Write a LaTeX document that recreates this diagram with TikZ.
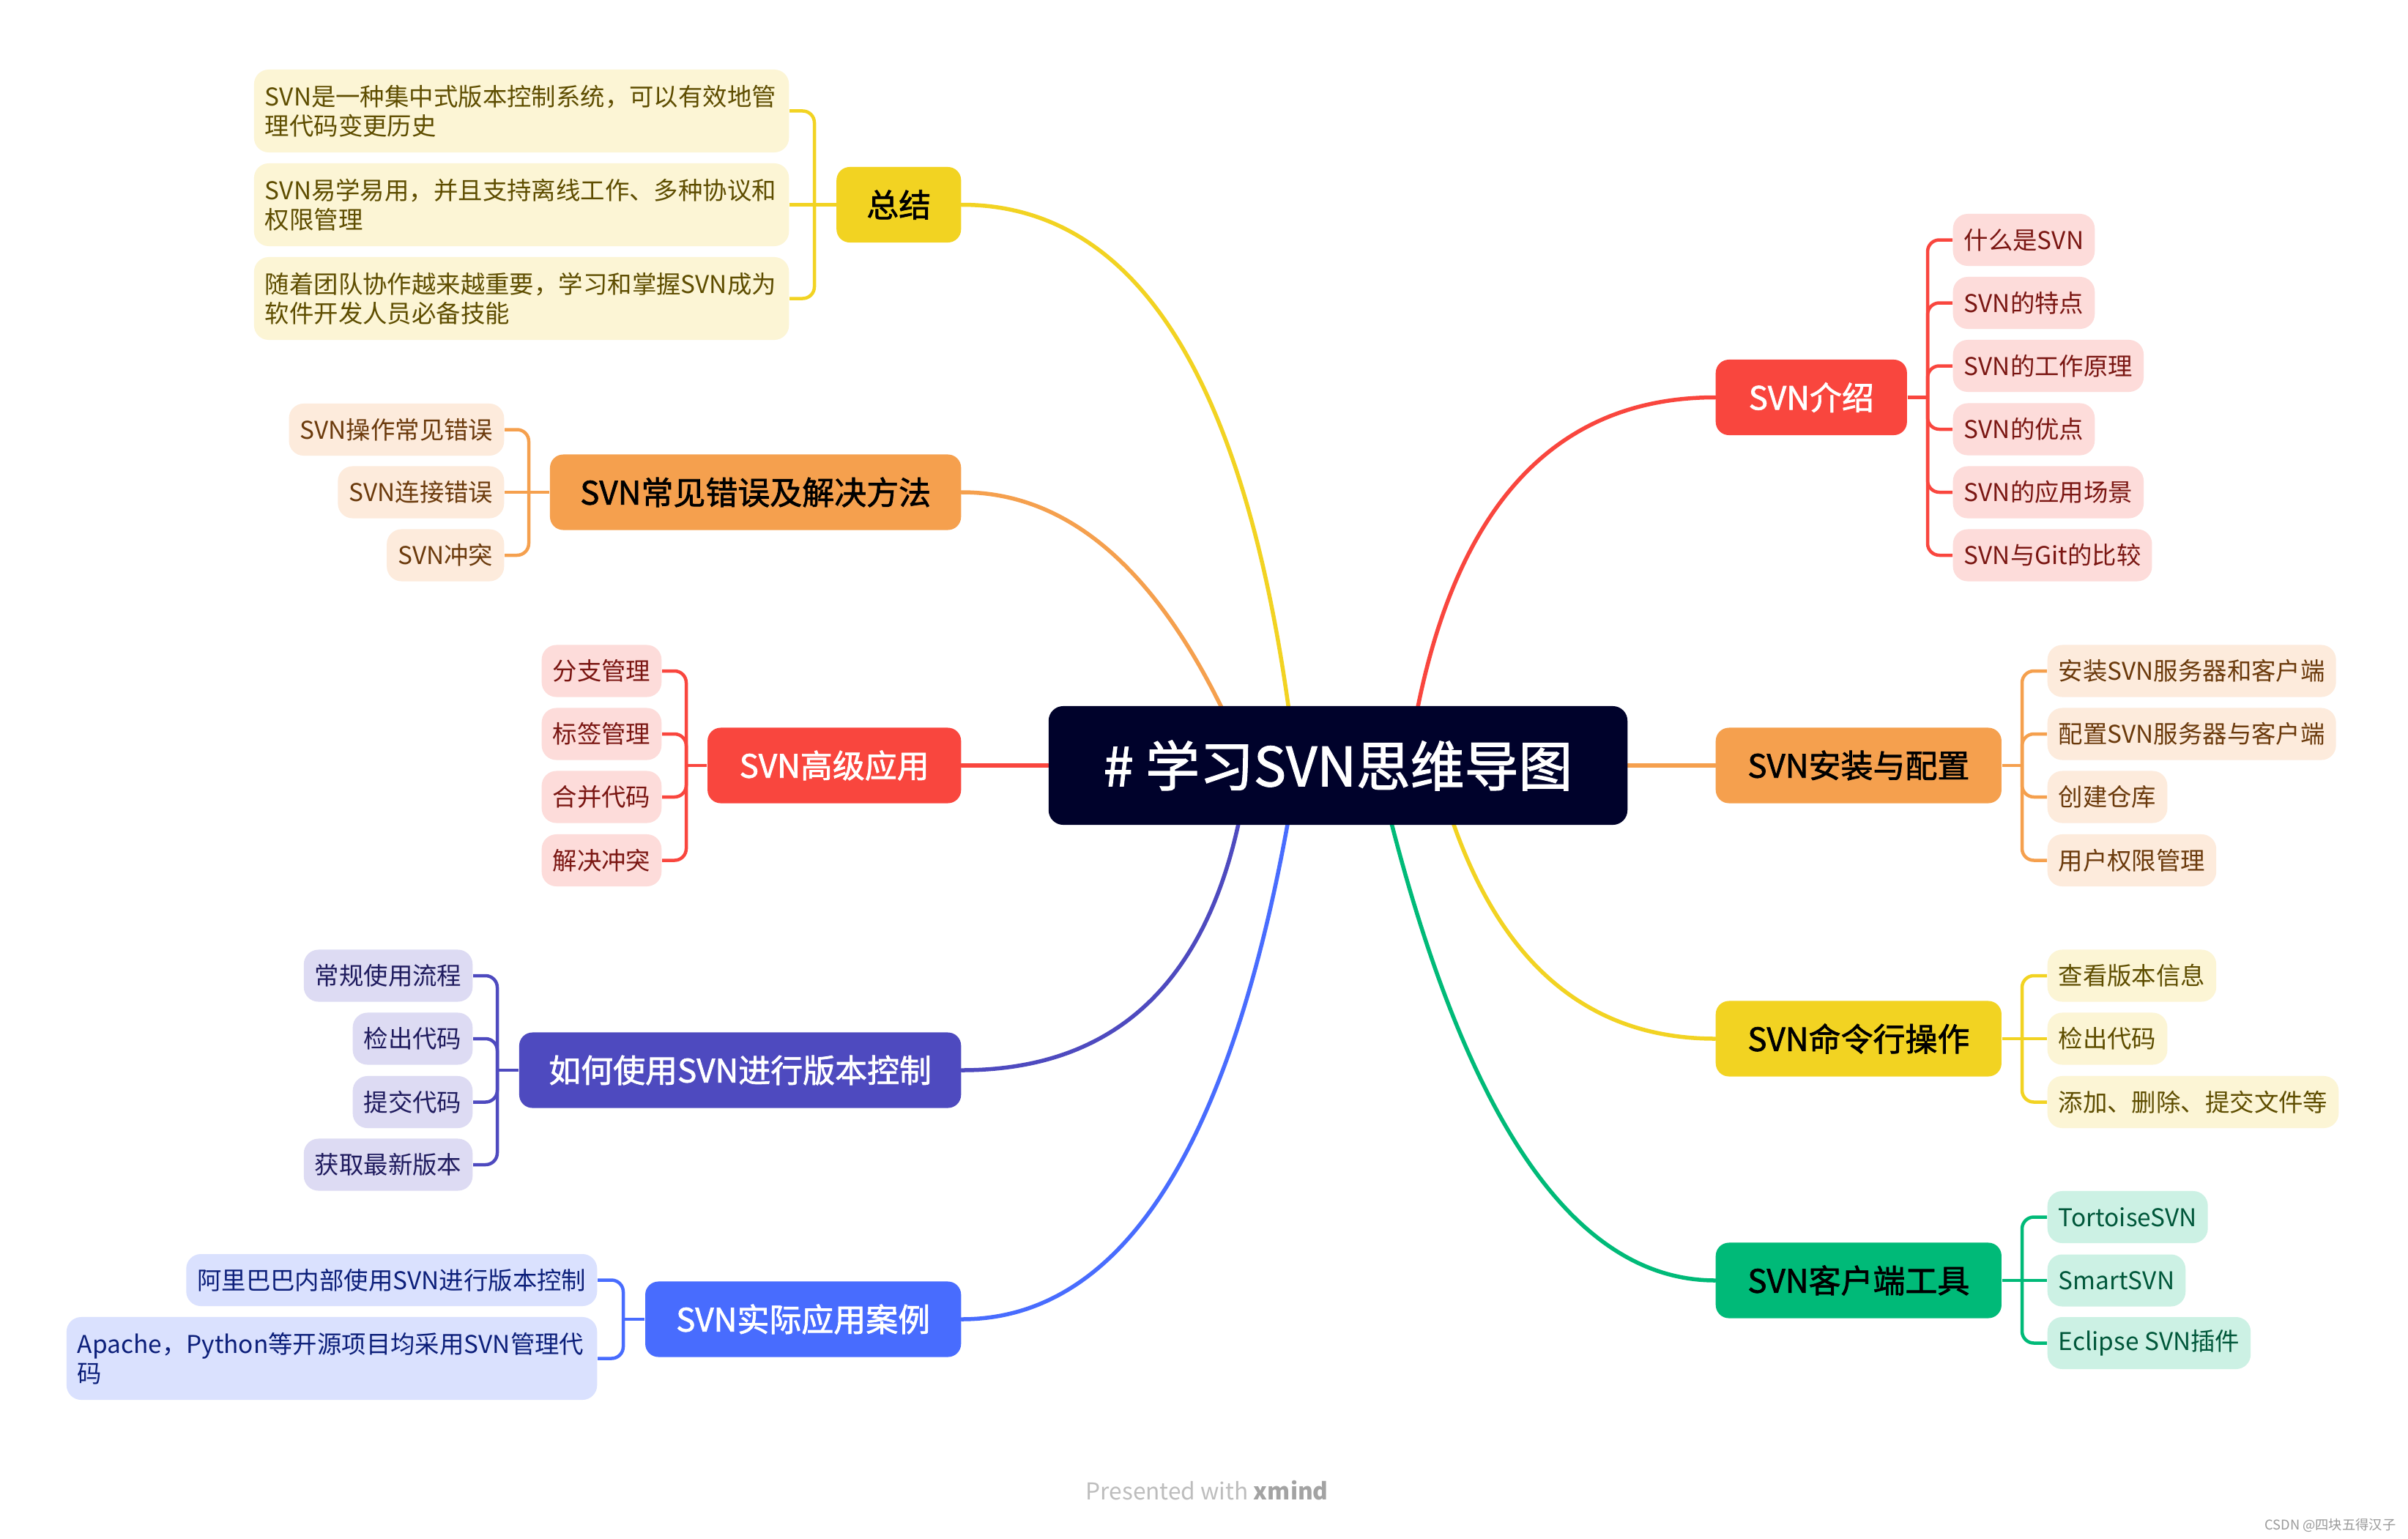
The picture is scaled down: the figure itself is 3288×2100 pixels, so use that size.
\documentclass[tikz,border=0pt]{standalone}
\usepackage{fontspec}
\setmainfont{Noto Sans CJK SC}
\newfontfamily\medfont{Noto Sans CJK SC}[FakeBold=1.6]
\usetikzlibrary{calc}
\pgfdeclarelayer{back}
\pgfdeclarelayer{bg}
\pgfsetlayers{back,bg,main}
\definecolor{rootc}{HTML}{00022B}
\definecolor{cYel}{HTML}{F2D322}
\definecolor{cYelL}{HTML}{FCF5D5}
\definecolor{cYelT}{HTML}{5E4D00}
\definecolor{cOra}{HTML}{F5A04E}
\definecolor{cOraL}{HTML}{FDEBDC}
\definecolor{cOraT}{HTML}{6B3A0C}
\definecolor{cRed}{HTML}{F9463E}
\definecolor{cRedL}{HTML}{FDDCDA}
\definecolor{cRedT}{HTML}{7A1612}
\definecolor{cPur}{HTML}{4E4ABF}
\definecolor{cPurL}{HTML}{DDDBF3}
\definecolor{cPurT}{HTML}{1F1B5E}
\definecolor{cBlu}{HTML}{486CFE}
\definecolor{cBluL}{HTML}{DAE1FE}
\definecolor{cBluT}{HTML}{0C1F7A}
\definecolor{cGrn}{HTML}{00BA78}
\definecolor{cGrnL}{HTML}{CCF1E4}
\definecolor{cGrnT}{HTML}{00573A}
\definecolor{ftgrey}{HTML}{BDBDBD}
\definecolor{ftdark}{HTML}{A3A3A3}
\definecolor{wmgrey}{HTML}{9A9A9A}
\tikzset{
  rootbox/.style={fill=rootc, text=white, rounded corners=0.2cm, minimum width=7.9cm, minimum height=1.62cm, inner sep=0pt, font=\medfont\fontsize{21pt}{24pt}\selectfont},
  branch/.style={rounded corners=0.18cm, minimum height=1.03cm, inner xsep=0.2cm, inner ysep=0pt, font=\medfont\fontsize{12.5pt}{15pt}\selectfont},
  leaf/.style={rounded corners=0.2cm, minimum height=0.71cm, inner xsep=0.15cm, inner ysep=0pt, font=\fontsize{9.5pt}{11.4pt}\selectfont},
  leafwide/.style={leaf, align=left, minimum height=1.13cm},
  leafY/.style={leaf, fill=cYelL, text=cYelT},
  leafO/.style={leaf, fill=cOraL, text=cOraT},
  leafR/.style={leaf, fill=cRedL, text=cRedT},
  leafP/.style={leaf, fill=cPurL, text=cPurT},
  leafB/.style={leaf, fill=cBluL, text=cBluT},
  leafG/.style={leaf, fill=cGrnL, text=cGrnT},
  curve/.style={line width=0.055cm, line cap=round},
  bracket/.style={line width=0.045cm, rounded corners=0.16cm},
}
\begin{document}
\begin{tikzpicture}[x=0.01cm, y=-0.01cm]
\useasboundingbox (0,0) rectangle (3288,2100);
\begin{pgfonlayer}{back}
\fill[white] (0,0) rectangle (3288,2100);
\end{pgfonlayer}

% root
\node[rootbox] (root) at (1827,1045) {\# 学习SVN思维导图};

% left branches
\node[branch, fill=cYel, text=black, minimum width=1.70cm, anchor=east] (b1) at (1313,279.5) {总结};
\node[branch, fill=cOra, text=black, minimum width=5.61cm, anchor=east] (b2) at (1313,672) {SVN常见错误及解决方法};
\node[branch, fill=cRed, text=white, minimum width=3.46cm, anchor=east] (b3) at (1313,1045) {SVN高级应用};
\node[branch, fill=cPur, text=white, minimum width=6.03cm, anchor=east] (b4) at (1313,1461) {如何使用SVN进行版本控制};
\node[branch, fill=cBlu, text=white, minimum width=4.31cm, anchor=east] (b5) at (1313,1801) {SVN实际应用案例};
% right branches
\node[branch, fill=cRed, text=white, minimum width=2.61cm, anchor=west] (b6) at (2342,542.5) {SVN介绍};
\node[branch, fill=cOra, text=black, minimum width=3.90cm, anchor=west] (b7) at (2342,1045) {SVN安装与配置};
\node[branch, fill=cYel, text=black, minimum width=3.90cm, anchor=west] (b8) at (2342,1418) {SVN命令行操作};
\node[branch, fill=cGrn, text=black, minimum width=3.90cm, anchor=west] (b9) at (2342,1748) {SVN客户端工具};

% leaves b1
\node[leafY, leafwide, text width=7.0cm, anchor=east] (l11) at (1078,151.5) {SVN是一种集中式版本控制系统，可以有效地管\\理代码变更历史};
\node[leafY, leafwide, text width=7.0cm, anchor=east] (l12) at (1078,279.5) {SVN易学易用，并且支持离线工作、多种协议和\\权限管理};
\node[leafY, leafwide, text width=7.0cm, anchor=east] (l13) at (1078,407.5) {随着团队协作越来越重要，学习和掌握SVN成为\\软件开发人员必备技能};
% leaves b2
\node[leafO, anchor=east] (l21) at (689,586.5) {SVN操作常见错误};
\node[leafO, anchor=east] (l22) at (689,672) {SVN连接错误};
\node[leafO, anchor=east] (l23) at (689,758) {SVN冲突};
% leaves b3
\node[leafR, anchor=east] (l31) at (904,916) {分支管理};
\node[leafR, anchor=east] (l32) at (904,1002) {标签管理};
\node[leafR, anchor=east] (l33) at (904,1088) {合并代码};
\node[leafR, anchor=east] (l34) at (904,1174.5) {解决冲突};
% leaves b4
\node[leafP, anchor=east] (l41) at (646,1332) {常规使用流程};
\node[leafP, anchor=east] (l42) at (646,1418) {检出代码};
\node[leafP, anchor=east] (l43) at (646,1504.5) {提交代码};
\node[leafP, anchor=east] (l44) at (646,1590) {获取最新版本};
% leaves b5
\node[leafB, anchor=east] (l51) at (816,1747.5) {阿里巴巴内部使用SVN进行版本控制};
\node[leafB, leafwide, text width=6.94cm, anchor=east] (l52) at (816,1854.5) {Apache，Python等开源项目均采用SVN管理代\\码};
% leaves b6
\node[leafR, anchor=west] (l61) at (2666,327.5) {什么是SVN};
\node[leafR, anchor=west] (l62) at (2666,413.5) {SVN的特点};
\node[leafR, anchor=west] (l63) at (2666,499.5) {SVN的工作原理};
\node[leafR, anchor=west] (l64) at (2666,586) {SVN的优点};
\node[leafR, anchor=west] (l65) at (2666,672) {SVN的应用场景};
\node[leafR, anchor=west] (l66) at (2666,758) {SVN与Git的比较};
% leaves b7
\node[leafO, anchor=west] (l71) at (2795,916) {安装SVN服务器和客户端};
\node[leafO, anchor=west] (l72) at (2795,1002) {配置SVN服务器与客户端};
\node[leafO, anchor=west] (l73) at (2795,1088) {创建仓库};
\node[leafO, anchor=west] (l74) at (2795,1174.5) {用户权限管理};
% leaves b8
\node[leafY, anchor=west] (l81) at (2795,1332) {查看版本信息};
\node[leafY, anchor=west] (l82) at (2795,1418) {检出代码};
\node[leafY, anchor=west] (l83) at (2795,1504.5) {添加、删除、提交文件等};
% leaves b9
\node[leafG, anchor=west] (l91) at (2795,1661.5) {TortoiseSVN};
\node[leafG, anchor=west] (l92) at (2795,1748) {SmartSVN};
\node[leafG, anchor=west] (l93) at (2795,1833.5) {Eclipse SVN插件};

% footer
\node[anchor=west, inner sep=0pt, text=ftgrey, font=\fontsize{9pt}{10pt}\selectfont] (footer) at (1482,2035) {Presented with {\bfseries\color{ftdark}xmind}};
\node[anchor=east, inner sep=0pt, text=wmgrey, font=\fontsize{5.2pt}{6pt}\selectfont] (wm) at (3272,2082) {CSDN @四块五得汉子};

\begin{pgfonlayer}{bg}
% main curves
\coordinate (e1) at (1760,970);  \coordinate (q1) at (1665,279.5);
\coordinate (e2) at (1670,970);  \coordinate (q2) at (1525,672);
\coordinate (e6) at (1935,970);  \coordinate (q6) at (2020,542.5);
\coordinate (e4) at (1692,1120); \coordinate (q4) at (1619,1461);
\coordinate (e5) at (1759,1120); \coordinate (q5) at (1636,1801);
\coordinate (e9) at (1899,1120); \coordinate (q9) at (2060,1748);
\coordinate (e8) at (1983,1120); \coordinate (q8) at (2086,1418);
\draw[curve, cYel] (b1.east) .. controls ($(b1.east)!0.6667!(q1)$) and ($(e1)!0.6667!(q1)$) .. (e1);
\draw[curve, cOra] (b2.east) .. controls ($(b2.east)!0.6667!(q2)$) and ($(e2)!0.6667!(q2)$) .. (e2);
\draw[curve, cRed] (b6.west) .. controls ($(b6.west)!0.6667!(q6)$) and ($(e6)!0.6667!(q6)$) .. (e6);
\draw[curve, cPur] (b4.east) .. controls ($(b4.east)!0.6667!(q4)$) and ($(e4)!0.6667!(q4)$) .. (e4);
\draw[curve, cBlu] (b5.east) .. controls ($(b5.east)!0.6667!(q5)$) and ($(e5)!0.6667!(q5)$) .. (e5);
\draw[curve, cGrn] (b9.west) .. controls ($(b9.west)!0.6667!(q9)$) and ($(e9)!0.6667!(q9)$) .. (e9);
\draw[curve, cYel] (b8.west) .. controls ($(b8.west)!0.6667!(q8)$) and ($(e8)!0.6667!(q8)$) .. (e8);
\draw[curve, cRed] (b3.east) -- (root.west);
\draw[curve, cOra] (root.east) -- (b7.west);

% hubs
\coordinate (h1) at (1112,279.5);
\coordinate (h2) at (722,672);
\coordinate (h3) at (937,1045);
\coordinate (h4) at (679,1461);
\coordinate (h5) at (851,1801);
\coordinate (h6) at (2632,542.5);
\coordinate (h7) at (2761,1045);
\coordinate (h8) at (2761,1418);
\coordinate (h9) at (2761,1748);

% brackets b1
\draw[bracket, cYel] (b1.west) -- (l12.east);
\draw[bracket, cYel] (h1) |- (l11.east);
\draw[bracket, cYel] (h1) |- (l13.east);
% b2
\draw[bracket, cOra] (b2.west) -- (l22.east);
\draw[bracket, cOra] (h2) |- (l21.east);
\draw[bracket, cOra] (h2) |- (l23.east);
% b3
\draw[bracket, cRed] (b3.west) -- (h3);
\foreach \n in {l31,l32,l33,l34} \draw[bracket, cRed] (h3) |- (\n.east);
% b4
\draw[bracket, cPur] (b4.west) -- (h4);
\foreach \n in {l41,l42,l43,l44} \draw[bracket, cPur] (h4) |- (\n.east);
% b5
\draw[bracket, cBlu] (b5.west) -- (h5);
\foreach \n in {l51,l52} \draw[bracket, cBlu] (h5) |- (\n.east);
% b6
\draw[bracket, cRed] (b6.east) -- (h6);
\foreach \n in {l61,l62,l63,l64,l65,l66} \draw[bracket, cRed] (h6) |- (\n.west);
% b7
\draw[bracket, cOra] (b7.east) -- (h7);
\foreach \n in {l71,l72,l73,l74} \draw[bracket, cOra] (h7) |- (\n.west);
% b8
\draw[bracket, cYel] (b8.east) -- (l82.west);
\draw[bracket, cYel] (h8) |- (l81.west);
\draw[bracket, cYel] (h8) |- (l83.west);
% b9
\draw[bracket, cGrn] (b9.east) -- (l92.west);
\draw[bracket, cGrn] (h9) |- (l91.west);
\draw[bracket, cGrn] (h9) |- (l93.west);
\end{pgfonlayer}
\end{tikzpicture}
\end{document}
